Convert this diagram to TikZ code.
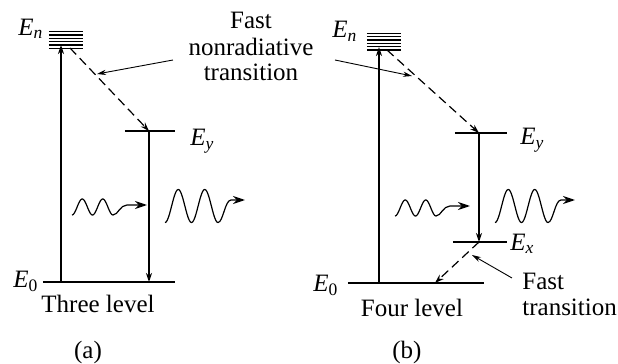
\documentclass[tikz,border=0pt]{standalone}
\usepackage{fontspec}
\setmainfont{Liberation Serif}
\usetikzlibrary{arrows.meta}

\newcommand{\lvl}[1]{\textit{E}\textsubscript{#1}}

\tikzset{
  level/.style={line width=0.75pt},
  jump/.style={line width=0.6pt, -{Stealth[length=4.5pt,width=3pt]}},
  fastjump/.style={jump, dash pattern=on 4.5pt off 2.5pt},
  pointer/.style={line width=0.45pt, -{Stealth[length=4.5pt,width=2.6pt]}},
  wave/.style={line width=0.6pt, line join=round, -{Stealth[length=6pt,width=4pt]}},
  inwave/.pic={\draw[wave] plot[domain=0:41, samples=60, smooth] (\x,{8*cos(\x/20.5*360)})
     .. controls (46,8) and (48,-2) .. (55,-2) -- (75,-2);},
  outwave/.pic={\draw[wave] plot[domain=0:53, samples=70, smooth] (\x,{16.5*cos(\x/26.5*360)})
     .. controls (58,16.5) and (60,-6) .. (66,-6) -- (80,-6);}
}

\begin{document}
\begin{tikzpicture}[x=0.5pt, y=-0.5pt, every node/.style={font=\fontsize{12.5}{13}\selectfont, inner sep=0pt}]
\useasboundingbox (0,0) rectangle (618,364);

% (a) three level
\foreach \k in {0,...,5} \draw[line width=0.6pt] (49,{31.7+3.33*\k}) -- (83,{31.7+3.33*\k});
\coordinate (aNtop) at (61,45);
\coordinate (aNout) at (70,48);
\coordinate (aYw) at (125,131);
\coordinate (aYe) at (175,131);
\coordinate (aYin) at (149,131);
\coordinate (a0w) at (43,282);
\coordinate (a0e) at (175,282);
\coordinate (a0up) at (61,282);
\coordinate (a0in) at (149,282);
\coordinate (aHit) at (97,74);
\draw[level] (aYw) -- (aYe);
\draw[level] (a0w) -- (a0e);
\draw[jump] (a0up) -- (aNtop);
\draw[fastjump] (aNout) -- (aYin);
\draw[jump] (aYin) -- (a0in);

\node[anchor=base west] (aEn) at (18,35) {\lvl{\textit{n}}};
\node[anchor=base west] (aEy) at (190,146) {\lvl{\textit{y}}};
\node[anchor=base west] (aE0) at (13,288) {\lvl{0}};
\node[anchor=base] (three) at (98,313) {Three level};
\node[anchor=base] (capA) at (88,358) {(a)};

% the base of a multi-line node is its last line
\node[align=center, anchor=base] (fastnr) at (251,81) {Fast\\nonradiative\\transition};
\coordinate (frL) at (173,60);
\coordinate (frR) at (335,60);
\coordinate (bHit) at (412,76);
\draw[pointer] (frL) -- (aHit);
\draw[pointer] (frR) -- (bHit);

\pic at (72,207) {inwave};
\pic at (165,206) {outwave};

% (b) four level
\foreach \k in {0,...,5} \draw[line width=0.6pt] (367,{33.3+3.33*\k}) -- (401,{33.3+3.33*\k});
\coordinate (bNtop) at (379,47);
\coordinate (bNout) at (387,50);
\coordinate (bYw) at (455,133);
\coordinate (bYe) at (507,133);
\coordinate (bYin) at (479,133);
\coordinate (bXw) at (453,242);
\coordinate (bXe) at (507,242);
\coordinate (bXin) at (479,242);
\coordinate (b0w) at (348,283);
\coordinate (b0e) at (484,283);
\coordinate (b0up) at (379,283);
\coordinate (b0in) at (435,283);
\draw[level] (bYw) -- (bYe);
\draw[level] (bXw) -- (bXe);
\draw[level] (b0w) -- (b0e);
\draw[jump] (b0up) -- (bNtop);
\draw[fastjump] (bNout) -- (bYin);
\draw[jump] (bYin) -- (bXin);
\draw[fastjump] (bXin) -- (b0in);

\node[anchor=base west] (bEn) at (332,38) {\lvl{\textit{n}}};
\node[anchor=base west] (bEy) at (520,145) {\lvl{\textit{y}}};
\node[anchor=base west] (bEx) at (510,250) {\lvl{\textit{x}}};
\node[anchor=base west] (bE0) at (313,292) {\lvl{0}};
\node[anchor=base] (four) at (412,316) {Four level};
\node[anchor=base] (capB) at (407,358) {(b)};

\node[align=left, anchor=base west] (fastt) at (522,315) {Fast\\transition};
\coordinate (ftL) at (512,278);
\coordinate (ftHit) at (472,255);
\draw[pointer] (ftL) -- (ftHit);

\pic at (395,208) {inwave};
\pic at (495,206) {outwave};
\end{tikzpicture}
\end{document}
